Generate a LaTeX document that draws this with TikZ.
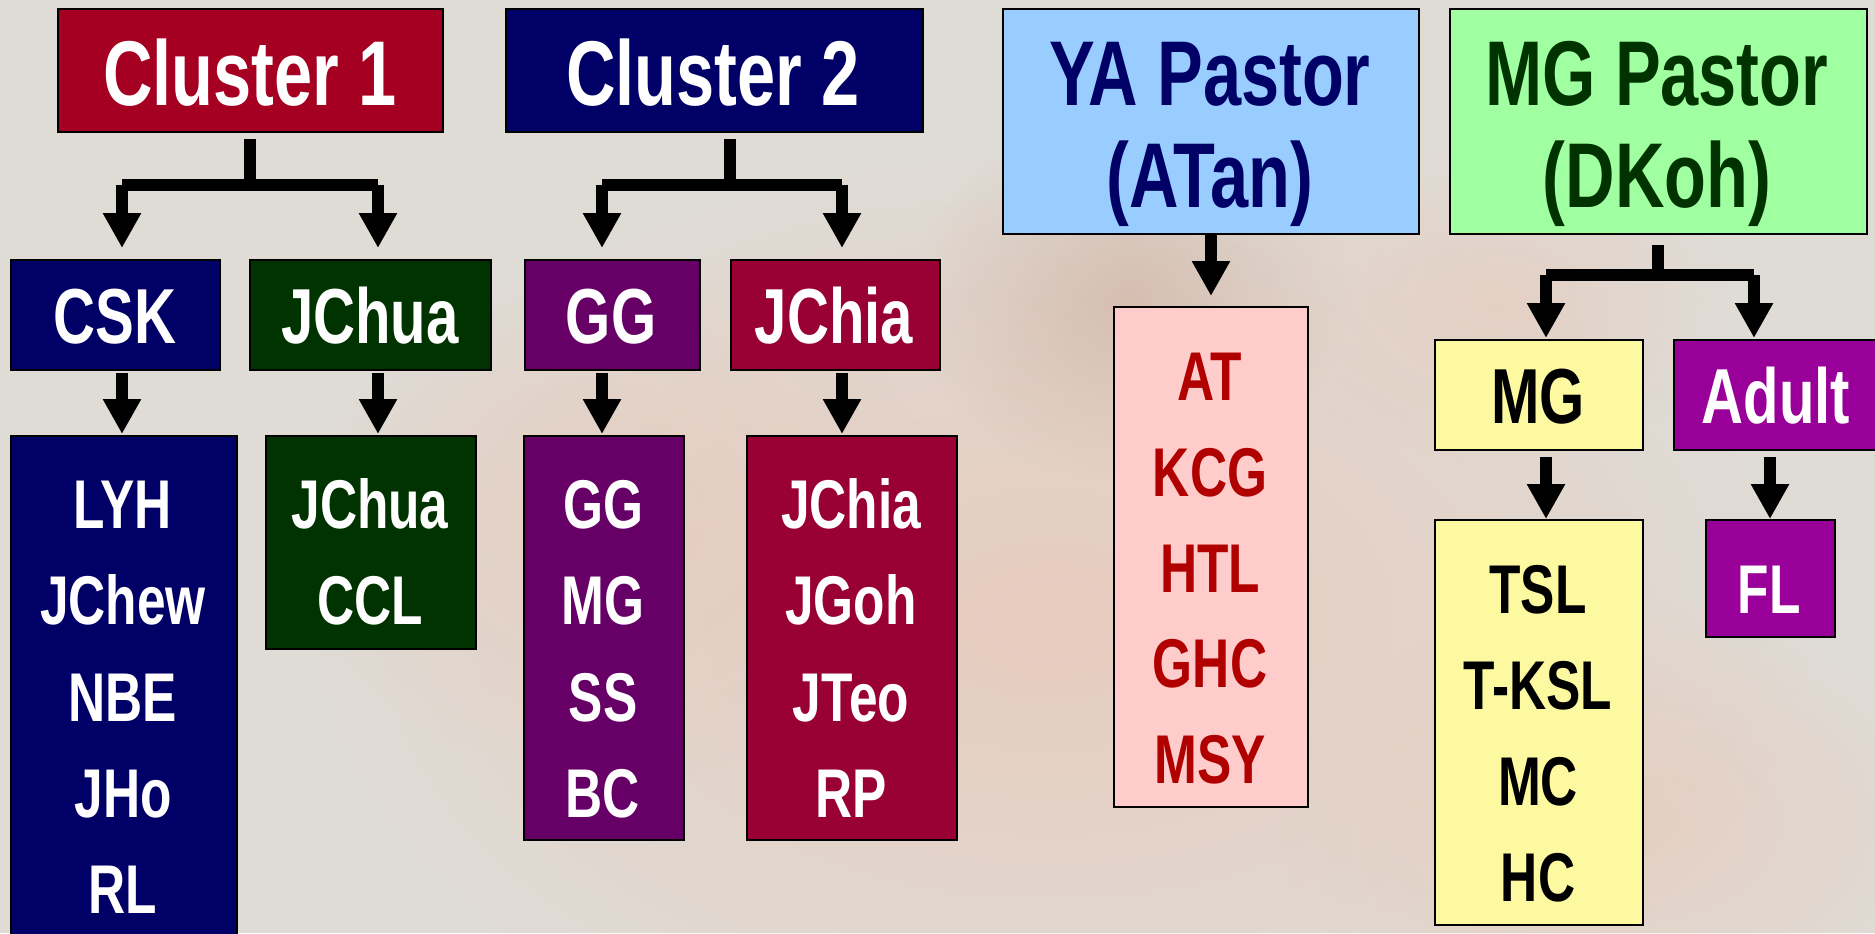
\documentclass[tikz,border=0pt]{standalone}
\usepackage{fontspec}
\newfontfamily\lblfont{Liberation Sans}[FakeStretch=0.745]
\usetikzlibrary{arrows.meta,calc,fadings}
\tikzfading[name=softout, inner color=transparent!0, outer color=transparent!100]
\definecolor{bgc}{HTML}{DFDCD6}
\definecolor{skin}{HTML}{EAC6B6}
\definecolor{skindark}{HTML}{C9A08E}
\definecolor{cred}{HTML}{A50021}
\definecolor{cnavy}{HTML}{000066}
\definecolor{cdgreen}{HTML}{003300}
\definecolor{cpurple}{HTML}{660066}
\definecolor{ccrimson}{HTML}{990033}
\definecolor{clblue}{HTML}{99CCFF}
\definecolor{clgreen}{HTML}{A0FFA0}
\definecolor{cpink}{HTML}{FFCCCC}
\definecolor{catred}{HTML}{B00000}
\definecolor{cyellow}{HTML}{FDF9A0}
\definecolor{cmagenta}{HTML}{990099}
\begin{document}
\begin{tikzpicture}[x=0.5pt,y=-0.5pt,
  box/.style={draw=black, line width=1pt, inner sep=0pt, anchor=north west},
  lbl/.style={anchor=base, inner sep=0pt, font=\lblfont\bfseries},
  big/.style={lbl, font=\lblfont\bfseries\fontsize{46}{53}\selectfont},
  mid/.style={lbl, font=\lblfont\bfseries\fontsize{39}{46}\selectfont},
  small/.style={lbl, font=\lblfont\bfseries\fontsize{34.5}{41}\selectfont},
  ln/.style={line width=6pt, line cap=butt},
  arr/.style={line width=6pt, line cap=butt, -{Triangle[width=18pt,length=17.5pt]}}
]
\useasboundingbox (0,0) rectangle (1875,933);
% background
\fill[bgc] (0,0) rectangle (1875,933);
\fill[skin, opacity=0.75, path fading=softout] (1050,620) ellipse [x radius=380pt, y radius=240pt];
\fill[skin, opacity=0.5, path fading=softout] (620,520) ellipse [x radius=160pt, y radius=130pt];
\fill[skindark, opacity=0.45, path fading=softout] (1130,300) ellipse [x radius=110pt, y radius=90pt];
\fill[skin, opacity=0.6, path fading=softout] (1620,820) ellipse [x radius=170pt, y radius=110pt];
\fill[skin, opacity=0.5, path fading=softout] (1500,300) ellipse [x radius=120pt, y radius=80pt];

% boxes
\node[box, fill=cred,    minimum width=192.5pt, minimum height=61.5pt] (c1) at (57,8) {};
\node[box, fill=cnavy,   minimum width=208.5pt, minimum height=61.5pt] (c2) at (505,8) {};
\node[box, fill=clblue,  minimum width=208pt,   minimum height=112.5pt] (ya) at (1002,8) {};
\node[box, fill=clgreen, minimum width=208.5pt, minimum height=112.5pt] (mgp) at (1449,8) {};
\node[box, fill=cnavy,   minimum width=104.5pt, minimum height=55pt] (csk) at (10,259) {};
\node[box, fill=cdgreen, minimum width=120.5pt, minimum height=55pt] (jchua) at (249,259) {};
\node[box, fill=cpurple, minimum width=87.5pt,  minimum height=55pt] (gg) at (524,259) {};
\node[box, fill=ccrimson,minimum width=104.5pt, minimum height=55pt] (jchia) at (730,259) {};
\node[box, fill=cnavy,   minimum width=113pt,   minimum height=262.5pt] (lyh) at (10,435) {};
\node[box, fill=cdgreen, minimum width=105pt,   minimum height=106.5pt] (ccl) at (265,435) {};
\node[box, fill=cpurple, minimum width=80pt,    minimum height=202pt] (ggl) at (523,435) {};
\node[box, fill=ccrimson,minimum width=105pt,   minimum height=202pt] (jchial) at (746,435) {};
\node[box, fill=cpink,   minimum width=97pt,    minimum height=250pt] (at) at (1113,306) {};
\node[box, fill=cyellow, minimum width=104pt,   minimum height=55pt] (mg) at (1434,339) {};
\node[box, fill=cmagenta,minimum width=103.5pt, minimum height=55pt] (adult) at (1673,339) {};
\node[box, fill=cyellow, minimum width=104pt,   minimum height=202.5pt] (tsl) at (1434,519) {};
\node[box, fill=cmagenta,minimum width=64.5pt,  minimum height=58.5pt] (fl) at (1705,519) {};

% labels
\node[big, white] (tc1) at (250,105) {Cluster 1};
\node[big, white] (tc2) at (713,105) {Cluster 2};
\node[big, cnavy] (tya1) at (1210,105) {YA Pastor};
\node[big, cnavy] (tya2) at (1210,207) {(ATan)};
\node[big, cdgreen] (tmg1) at (1657,105) {MG Pastor};
\node[big, cdgreen] (tmg2) at (1657,207) {(DKoh)};
\node[mid, white] (tcsk) at (115,343) {CSK};
\node[mid, white] (tjchua) at (370,343) {JChua};
\node[mid, white] (tgg) at (611,343) {GG};
\node[mid, white] (tjchia) at (834,343) {JChia};
\node[mid, black] (tmg) at (1538,423) {MG};
\node[mid, white] (tadult) at (1776,423) {Adult};

\foreach \t [count=\i] in {LYH,JChew,NBE,JHo,RL}
  \node[small, white] (la\i) at (123,{528.5+96.3*(\i-1)}) {\t};
\foreach \t [count=\i] in {JChua,CCL}
  \node[small, white] (lb\i) at (370,{528.5+96.3*(\i-1)}) {\t};
\foreach \t [count=\i] in {GG,MG,SS,BC}
  \node[small, white] (lc\i) at (603,{528.5+96.3*(\i-1)}) {\t};
\foreach \t [count=\i] in {JChia,JGoh,JTeo,RP}
  \node[small, white] (ld\i) at (851,{528.5+96.3*(\i-1)}) {\t};
\foreach \t [count=\i] in {AT,KCG,HTL,GHC,MSY}
  \node[small, catred] (le\i) at (1210,{400.5+95.8*(\i-1)}) {\t};
\foreach \t [count=\i] in {TSL,T-KSL,MC,HC}
  \node[small, black] (lf\i) at (1538,{613.5+96*(\i-1)}) {\t};
\node[small, white] (lg1) at (1769,613.5) {FL};

% connectors
\coordinate (j1) at (250,185);
\coordinate (j1l) at (122,185);
\coordinate (j1r) at (378,185);
\draw[ln] ($(c1.south -| j1)+(0,6)$) -- (j1);
\draw[ln] (j1l) -- (j1r);
\draw[arr, shorten >=5.5pt] (j1l) -- (j1l |- csk.north);
\draw[arr, shorten >=5.5pt] (j1r) -- (j1r |- jchua.north);

\coordinate (j2) at (730,185);
\coordinate (j2l) at (602,185);
\coordinate (j2r) at (842,185);
\draw[ln] ($(c2.south -| j2)+(0,6)$) -- (j2);
\draw[ln] (j2l) -- (j2r);
\draw[arr, shorten >=5.5pt] (j2l) -- (j2l |- gg.north);
\draw[arr, shorten >=5.5pt] (j2r) -- (j2r |- jchia.north);

\draw[arr, shorten <=1pt, shorten >=0.5pt] (csk.south -| j1l) -- (j1l |- lyh.north);
\draw[arr, shorten <=1pt, shorten >=0.5pt] (jchua.south -| j1r) -- (j1r |- ccl.north);
\draw[arr, shorten <=1pt, shorten >=0.5pt] (gg.south -| j2l) -- (j2l |- ggl.north);
\draw[arr, shorten <=1pt, shorten >=0.5pt] (jchia.south -| j2r) -- (j2r |- jchial.north);

\draw[arr, shorten >=5pt] (ya.south) -- (at.north);

\coordinate (j3) at (1658,275);
\coordinate (j3l) at (1546,275);
\coordinate (j3r) at (1754,275);
\draw[ln] ($(mgp.south -| j3)+(0,10)$) -- (j3);
\draw[ln] (j3l) -- (j3r);
\draw[arr, shorten >=0.5pt] (j3l) -- (j3l |- mg.north);
\draw[arr, shorten >=0.5pt] (j3r) -- (j3r |- adult.north);

\coordinate (k1) at (1546,457);
\coordinate (k2) at (1770,457);
\draw[arr] (k1) -- (k1 |- tsl.north);
\draw[arr] (k2) -- (k2 |- fl.north);
\end{tikzpicture}
\end{document}
